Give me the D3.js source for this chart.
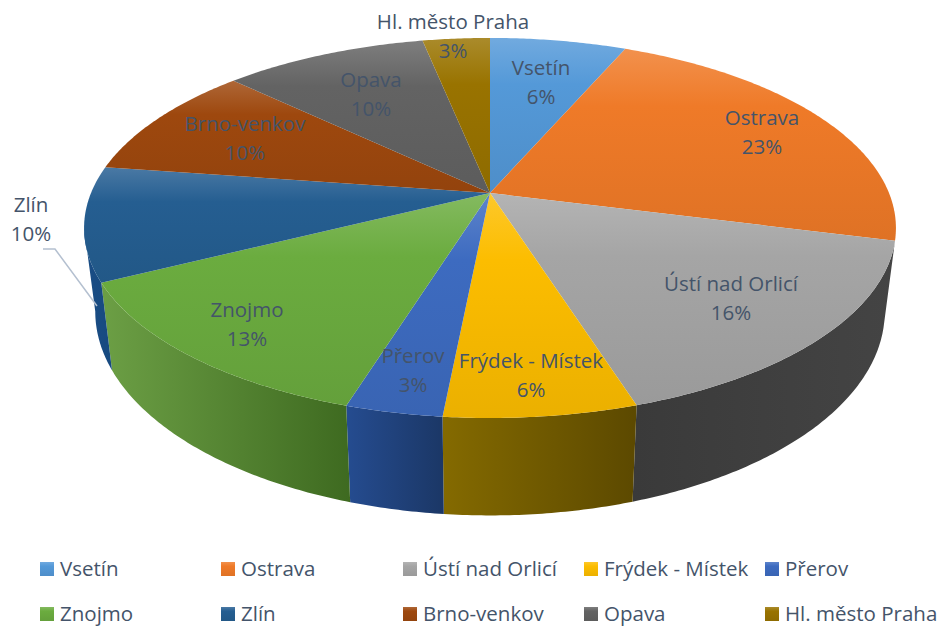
<!DOCTYPE html>
<html>
<head>
<meta charset="utf-8">
<script src="https://cdn.jsdelivr.net/npm/d3@7"></script>
<style>
  html, body { margin: 0; padding: 0; background: #fff; }
  text { font-family: "Open Sans", "Noto Sans", sans-serif; fill: #44546a; }
</style>
</head>
<body>
<div id="chart"></div>
<script>
var categories = ["Vsetín", "Ostrava", "Ústí nad Orlicí", "Frýdek - Místek", "Přerov", "Znojmo", "Zlín", "Brno-venkov", "Opava", "Hl. město Praha"];
var shares = [6.49, 22.51, 16.1, 6.45, 3.25, 12.8, 9.7, 9.8, 9.7, 3.2];

var colors = ["#5499d8", "#ef7a28", "#a5a5a5", "#fcbd00", "#3d6bc0", "#6bac3f", "#255e91", "#9e480e", "#636363", "#997300"];
// side wall shading, left colour then right colour
var wallColors = {
  2: ["#3a3a3a", "#444444"],
  3: ["#846a00", "#5c4900"],
  4: ["#254c90", "#1b3766"],
  5: ["#6c9f45", "#3e6a20"],
  6: ["#1a4d85", "#174a80"]
};

// label centres in the picture: name line, percent line
var labelX = [541, 762, 731, 531, 413, 247, 31, 245, 371, 453];
var labelY = [68, 118, 284, 361, 356, 310, 205, 124, 80, 22];
var legendRows = [0, 0, 0, 0, 0, 1, 1, 1, 1, 1];
var legendCols = [40, 221, 403, 584, 765];

var svgWidth = 944;
var svgHeight = 628;

var svg = d3.select("#chart")
  .append("svg")
  .attr("width", svgWidth)
  .attr("height", svgHeight)
  .style("display", "block");

var defs = svg.append("defs");

var pie = d3.pie().sort(null).value(d => d);
var slices = pie(shares);

// perspective of the tilted disc
var k = 0.184;
var topX = d3.scaleLinear().domain([-1, 1]).range([91, 889]);
var topY = d3.scaleLinear().domain([-1, 1]).range([376.6, 9.4]);
var bottomX = d3.scaleLinear().domain([-1, 1]).range([102, 878]);
var bottomY = d3.scaleLinear().domain([-1, 1]).range([471, 77]);

function rim(scaleX, scaleY, a) {
  var w = 1 + k * Math.cos(a);
  return [scaleX(Math.sin(a) / w), scaleY(Math.cos(a) / w)];
}

function arcPoints(scaleX, scaleY, a0, a1) {
  var n = Math.max(2, Math.ceil((a1 - a0) / 0.01));
  return d3.range(n + 1).map(i => rim(scaleX, scaleY, a0 + (a1 - a0) * i / n));
}

var line = d3.line();

// walls are only visible between the two silhouette points of the disc
var wallFrom = Math.PI - Math.acos(k);
var wallTo = Math.PI + Math.acos(k);

slices.forEach(function(s, i) {
  if (!wallColors[i]) return;
  var a0 = Math.max(s.startAngle, wallFrom);
  var a1 = Math.min(s.endAngle, wallTo);

  var grad = defs.append("linearGradient")
    .attr("id", "wall" + i)
    .attr("x1", 0).attr("x2", 1).attr("y1", 0).attr("y2", 0);
  grad.append("stop").attr("offset", 0).attr("stop-color", wallColors[i][0]);
  grad.append("stop").attr("offset", 1).attr("stop-color", wallColors[i][1]);

  var pts = arcPoints(topX, topY, a0, a1).concat(arcPoints(bottomX, bottomY, a0, a1).reverse());
  svg.append("path")
    .attr("d", line(pts) + "Z")
    .attr("fill", "url(#wall" + i + ")");
});

function topGradient(id, c) {
  var grad = defs.append("linearGradient")
    .attr("id", id)
    .attr("x1", 0).attr("x2", 0).attr("y1", 0).attr("y2", 1);
  grad.append("stop").attr("offset", 0).attr("stop-color", d3.interpolateRgb(c, "#fff")(0.17));
  grad.append("stop").attr("offset", 0.3).attr("stop-color", c);
  grad.append("stop").attr("offset", 1).attr("stop-color", d3.color(c).darker(0.2));
}

var apex = [topX(0), topY(0)];

slices.forEach(function(s, i) {
  topGradient("top" + i, colors[i]);
  var pts = [apex].concat(arcPoints(topX, topY, s.startAngle, s.endAngle));
  svg.append("path")
    .attr("d", line(pts) + "Z")
    .attr("fill", "url(#top" + i + ")");
});

// leader line of the Zlín label
svg.append("polyline")
  .attr("points", "43,249 55,249 97,306")
  .attr("fill", "none")
  .attr("stroke", "#b4c0d0")
  .attr("stroke-width", 1.5);

var fontSize = 20.5;

categories.forEach(function(name, i) {
  svg.append("text")
    .attr("x", labelX[i])
    .attr("y", labelY[i])
    .attr("dy", "0.35em")
    .attr("text-anchor", "middle")
    .attr("font-size", fontSize)
    .text(name);
  svg.append("text")
    .attr("x", labelX[i])
    .attr("y", labelY[i] + 28.5)
    .attr("dy", "0.35em")
    .attr("text-anchor", "middle")
    .attr("font-size", fontSize)
    .text(Math.round(shares[i]) + "%");
});

// legend
categories.forEach(function(name, i) {
  var x = legendCols[i % 5];
  var y = legendRows[i] === 0 ? 562 : 607;
  var id = "top" + i;
  svg.append("rect")
    .attr("x", x).attr("y", y)
    .attr("width", 14).attr("height", 14)
    .attr("fill", "url(#" + id + ")");
  svg.append("text")
    .attr("x", x + 20)
    .attr("y", y + 7)
    .attr("dy", "0.35em")
    .attr("font-size", fontSize)
    .text(name);
});
</script>
</body>
</html>
